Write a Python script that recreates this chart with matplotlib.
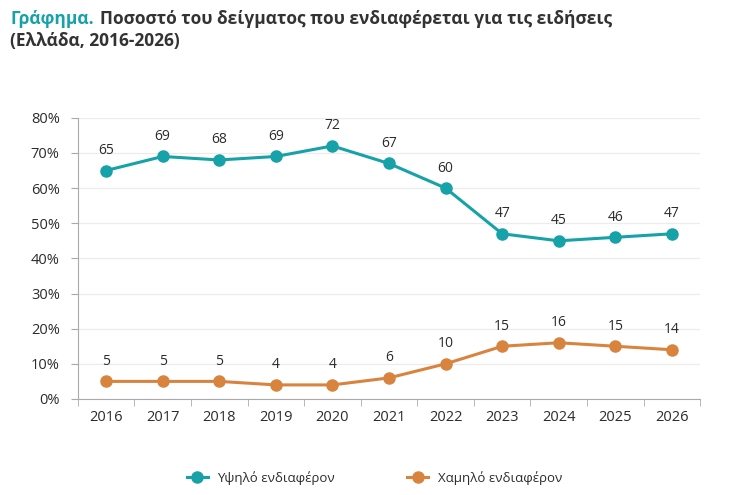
import matplotlib.pyplot as plt
from matplotlib.ticker import FuncFormatter

plt.rcParams['font.family'] = ['Open Sans', 'DejaVu Sans']

years = [2016, 2017, 2018, 2019, 2020, 2021, 2022, 2023, 2024, 2025, 2026]
high = [65, 69, 68, 69, 72, 67, 60, 47, 45, 46, 47]
low = [5, 5, 5, 4, 4, 6, 10, 15, 16, 15, 14]
series_names = ["Υψηλό ενδιαφέρον", "Χαμηλό ενδιαφέρον"]

TEAL = "#16a2a8"
ORANGE = "#d8843f"
TXT = "#2b2b2b"

fig = plt.figure(figsize=(7.34, 4.95), dpi=100)
ax = fig.add_axes([0.106, 0.194, 0.848, 0.568])

x = list(range(len(years)))
ax.plot(x, high, color=TEAL, lw=2.2, marker="o", ms=8, label=series_names[0], zorder=3)
ax.plot(x, low, color=ORANGE, lw=2.2, marker="o", ms=8, label=series_names[1], zorder=3)

for xi, v in zip(x, high):
    ax.annotate(str(v), (xi, v), xytext=(0, 9), textcoords="offset points",
                ha="center", va="bottom", fontsize=10, color=TXT)
for xi, v in zip(x, low):
    ax.annotate(str(v), (xi, v), xytext=(0, 9), textcoords="offset points",
                ha="center", va="bottom", fontsize=10, color=TXT)

ax.set_xlim(-0.5, len(years) - 0.5)
ax.set_ylim(0, 80)
ax.set_yticks(range(0, 81, 10))
ax.yaxis.set_major_formatter(FuncFormatter(lambda v, p: f"{int(v)}%"))
ax.set_xticks(x)
ax.set_xticklabels([str(y) for y in years])
ax.set_xticks([i - 0.5 for i in range(len(years) + 1)], minor=True)
ax.tick_params(axis="x", which="major", length=0, pad=8, labelsize=10.5, labelcolor=TXT)
ax.tick_params(axis="x", which="minor", length=5, color="#aaaaaa")
ax.tick_params(axis="y", length=5, color="#aaaaaa", pad=8, labelsize=10.5, labelcolor=TXT)

ax.grid(axis="y", color="#ececec", lw=0.9)
ax.set_axisbelow(True)
for s in ["top", "right"]:
    ax.spines[s].set_visible(False)
for s in ["left", "bottom"]:
    ax.spines[s].set_color("#aaaaaa")

fig.legend(loc="center", bbox_to_anchor=(0.51, 0.034), ncol=2, frameon=False,
           fontsize=9.5, handlelength=1.6, handletextpad=0.7, columnspacing=5.5,
           labelcolor=TXT)

fig.text(0.014, 0.962, "Γράφημα.", color=TEAL, fontsize=12.5, fontweight="bold", va="center")
fig.text(0.136, 0.962, "Ποσοστό του δείγματος που ενδιαφέρεται για τις ειδήσεις",
         color="#333333", fontsize=12.5, fontweight="bold", va="center")
fig.text(0.014, 0.917, "(Ελλάδα, 2016-2026)", color="#333333", fontsize=12.5,
         fontweight="bold", va="center")

fig.savefig("out.png", dpi=100)
